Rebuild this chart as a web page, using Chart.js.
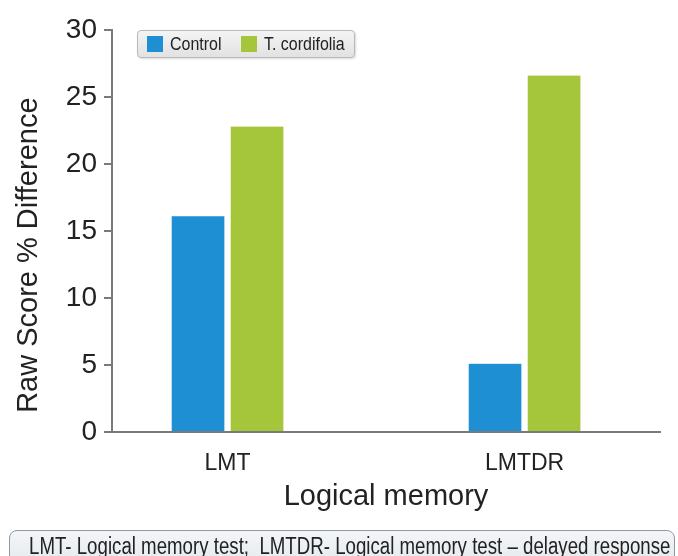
<!DOCTYPE html>
<html>
<head>
<meta charset="utf-8">
<script src="https://cdn.jsdelivr.net/npm/chart.js@4.4.1/dist/chart.umd.min.js"></script>
<style>
    body { margin: 0; background: #fff; }
    #wrap { position: relative; width: 678px; height: 556px; overflow: hidden; }
    #legendBox {
        position: absolute; left: 137px; top: 30px; width: 216px; height: 26px;
        border: 1px solid #b9b9b9; border-radius: 4px;
        background: linear-gradient(#f4f4f4, #e2e2e2);
        box-shadow: 1px 1px 2px rgba(0,0,0,0.15);
        font-family: "Liberation Sans", sans-serif;
        font-size: 19px; color: #222;
    }
    .item { position: absolute; top: 3px; line-height: 20px; white-space: nowrap; }
    .swatch { position: absolute; top: 2px; left: 0; width: 16px; height: 16px; }
    .label { position: absolute; left: 23px; top: 0; transform: scaleX(0.84); transform-origin: left center; }
    #note {
        position: absolute; left: 9px; top: 530px; width: 664px; height: 40px;
        border: 1.5px solid #8d9aa6; border-radius: 8px;
        background: linear-gradient(#f3f5f7, #e4e8ec);
        font-family: "Liberation Sans", sans-serif;
        font-size: 23px; color: #222; line-height: 30px;
        white-space: nowrap;
    }
    #note span { display: inline-block; transform: scaleX(0.812); transform-origin: left center; margin-left: 19px; }
</style>
</head>
<body>
<div id="wrap">
    <canvas id="chart" width="678" height="556"></canvas>
    <div id="legendBox"></div>
    <div id="note"><span>LMT- Logical memory test;&nbsp; LMTDR- Logical memory test – delayed response</span></div>
</div>
<script>
// values
const categories = ['LMT', 'LMTDR'];
const seriesNames = ['Control', 'T. cordifolia'];
const controlValues = [16.1, 5.1];
const cordifoliaValues = [22.8, 26.6];
const yTicks = [0, 5, 10, 15, 20, 25, 30];

const colors = ['#1e8fd3', '#a5c53a'];
const axisColor = '#7a7a7a';

// build the little legend box
const legendBox = document.getElementById('legendBox');
const legendLeft = [9, 103];
seriesNames.forEach((name, i) => {
    const item = document.createElement('span');
    item.className = 'item';
    item.style.left = legendLeft[i] + 'px';
    item.innerHTML = `<span class="swatch" style="background:${colors[i]}"></span><span class="label">${name}</span>`;
    legendBox.appendChild(item);
});

function toPoints(values) {
    return values.map((v, i) => ({ x: i + 1, y: v }));
}

const ctx = document.getElementById('chart').getContext('2d');
new Chart(ctx, {
    type: 'bar',
    data: {
        datasets: [
            { label: seriesNames[0], data: toPoints(controlValues), backgroundColor: colors[0] },
            { label: seriesNames[1], data: toPoints(cordifoliaValues), backgroundColor: colors[1] }
        ]
    },
    options: {
        responsive: false,
        animation: false,
        layout: { padding: { left: 0, right: 18, top: 30, bottom: 36 } },
        datasets: {
            bar: {
                barThickness: 59,
                borderColor: '#ffffff',
                borderWidth: { left: 3.5, right: 3.5, top: 0, bottom: 0 },
                borderSkipped: false
            }
        },
        plugins: {
            legend: { display: false },
            tooltip: { enabled: false }
        },
        scales: {
            x: {
                type: 'linear',
                offset: false,
                min: 0.611,
                max: 2.456,
                grid: { display: false, drawTicks: false },
                border: { display: true, color: axisColor, width: 2 },
                ticks: {
                    stepSize: 1,
                    padding: 18,
                    color: '#222',
                    font: { family: '"Liberation Sans"', size: 23 },
                    callback: v => Number.isInteger(v) && categories[v - 1] ? categories[v - 1] : ''
                },
                title: {
                    display: true,
                    text: 'Logical memory',
                    color: '#222',
                    font: { family: '"Liberation Sans"', size: 29 },
                    padding: { top: 0, bottom: 6 }
                },
                afterFit: scale => { scale.height = 88; }
            },
            y: {
                min: 0,
                max: 30,
                afterBuildTicks: scale => { scale.ticks = yTicks.map(v => ({ value: v })); },
                grid: { drawOnChartArea: false, drawTicks: true, tickLength: 8, color: axisColor, lineWidth: 2 },
                border: { display: true, color: axisColor, width: 2 },
                ticks: {
                    padding: 7,
                    color: '#222',
                    font: { family: '"Liberation Sans"', size: 28 }
                },
                title: {
                    display: true,
                    text: 'Raw Score % Difference      ',
                    color: '#222',
                    font: { family: '"Liberation Sans"', size: 29 },
                    padding: { top: 12, bottom: 0 }
                },
                afterFit: scale => { scale.width = 112; }
            }
        }
    }
});
</script>
</body>
</html>
